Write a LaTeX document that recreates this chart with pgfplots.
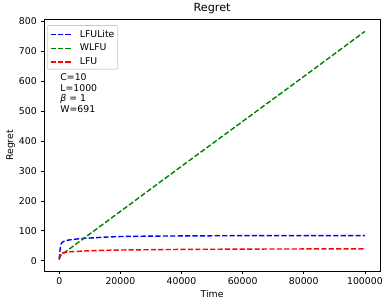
\documentclass[border=0pt]{standalone}
\usepackage{fontspec}
\setmainfont{DejaVu Sans}
\usepackage{pgfplots}
\pgfplotsset{compat=1.18}
\newcommand{\tickfont}{\fontsize{9.4bp}{11bp}\selectfont}
\definecolor{cblue}{rgb}{0,0,1}
\definecolor{cgreen}{rgb}{0,0.5,0}
\definecolor{cred}{rgb}{1,0,0}
\definecolor{cframe}{gray}{0.8}
\newcommand{\dsh}{\rule[1.9bp]{5.2bp}{1.42bp}}
\newcommand{\leg}[1]{\textcolor{#1}{\dsh\hspace{2.27bp}\dsh\hspace{2.27bp}\dsh}\hspace{9.3bp}}
\begin{document}
\begin{tikzpicture}
\begin{axis}[
  at={(0,0)}, anchor=south west,
  scale only axis, width=338.8bp, height=253bp,
  xmin=-5000, xmax=105000, ymin=-34, ymax=805.6,
  xtick={0,20000,40000,60000,80000,100000},
  ytick={0,100,200,300,400,500,600,700,800},
  scaled x ticks=false,
  /pgf/number format/assume math mode=true,
  xticklabel style={/pgf/number format/.cd, fixed, 1000 sep={}},
  tick label style={font=\tickfont},
  yticklabel style={xshift=-0.5bp},
  tick align=outside, major tick length=3.3bp,
  xtick pos=bottom, ytick pos=left,
  axis line style={line width=0.76bp},
  every tick/.style={black, line width=0.76bp},
  xlabel={Time}, ylabel={Regret},
  label style={font=\tickfont},
  xlabel style={yshift=1bp},
  ylabel style={yshift=-3bp},
  title={Regret}, title style={font=\fontsize{11.3bp}{13bp}\selectfont, yshift=-3.5bp},
  legend cell align=left,
  legend style={at={(0,1)}, anchor=north west, xshift=3bp, yshift=-5.3bp,
    font=\tickfont, draw=cframe, line width=0.7bp, rounded corners=1.5bp, fill=white,
    inner xsep=3.4bp, inner ysep=4.8bp, row sep=6.8bp,
    nodes={inner sep=0pt, text height=7bp, text depth=0pt},
    /tikz/every odd column/.append style={column sep=0pt}},
  legend image code/.code={},
  every axis plot/.append style={line width=1.42bp, dash pattern=on 5.2bp off 2.27bp},
]
\addplot[draw=cblue] coordinates {
(0,5) (100,20) (300,40) (600,55) (1000,62) (1500,65) (2000,67) (3000,69) (4000,71) (6000,73) (8000,75) (10000,76) (15000,79) (20000,81) (30000,82.5) (40000,83) (50000,83.5) (60000,84) (80000,84) (100000,84)
};
\addlegendentry{\leg{cblue}LFULite}
\addplot[draw=cgreen] coordinates {
(0,5) (500,18) (1000,22) (20000,165) (40000,316) (60000,466) (80000,616) (100000,767)
};
\addlegendentry{\leg{cgreen}WLFU}
\addplot[draw=cred] coordinates {
(0,4) (100,12) (300,20) (600,24) (1000,26) (2000,28) (3000,29.5) (5000,31) (8000,32.5) (10000,33.5) (15000,35) (20000,36) (30000,37) (40000,38) (60000,39) (80000,39.5) (100000,40)
};
\addlegendentry{\leg{cred}LFU}
\node[anchor=north west, align=left, font=\fontsize{9.4bp}{10.6bp}\selectfont, inner sep=0pt]
  at (rel axis cs:0,1) [xshift=16.4bp, yshift=-54.3bp] {C=10\\L=1000\\\textit{β} = 1\\W=691};
\end{axis}
\useasboundingbox (-44.3bp,-30bp) rectangle (341.7bp,273bp);
\end{tikzpicture}
\end{document}
